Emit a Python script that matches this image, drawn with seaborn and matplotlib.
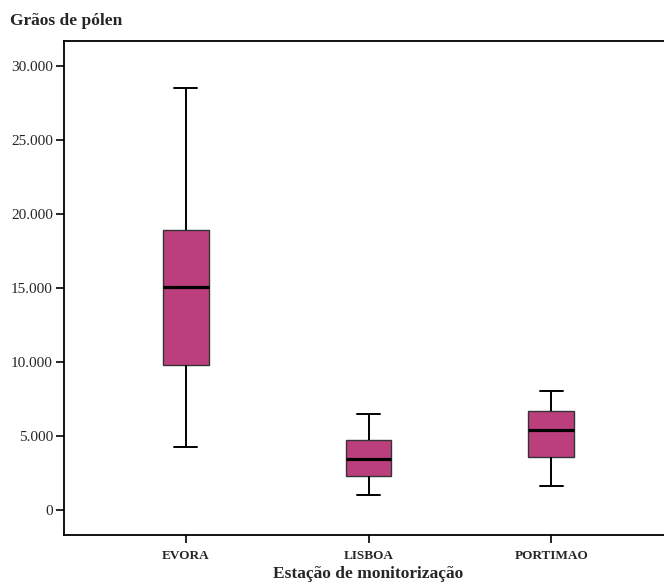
import pandas as pd
import seaborn as sns
import matplotlib.pyplot as plt

# Valores (mín, Q1, mediana, Q3, máx)
estacoes = ['EVORA', 'LISBOA', 'PORTIMAO']
evora = [4260, 9800, 15070, 18920, 28510]
lisboa = [1010, 2300, 3450, 4730, 6490]
portimao = [1620, 3580, 5400, 6690, 8040]

df = pd.DataFrame({
    'estacao': ['EVORA'] * 5 + ['LISBOA'] * 5 + ['PORTIMAO'] * 5,
    'graos': evora + lisboa + portimao,
})

sns.set_theme(style='white')
plt.rcParams['font.family'] = ['Liberation Serif', 'DejaVu Serif']

fig = plt.figure(figsize=(6.64, 5.85), dpi=100)
ax = fig.add_axes([64 / 664, 50 / 585, 609 / 664, 494.5 / 585])

sns.boxplot(data=df, x='estacao', y='graos', order=estacoes, ax=ax,
            whis=(0, 100), width=0.25, color='#BC3F7D', saturation=1,
            linecolor='#333333', linewidth=1.0,
            medianprops={'color': 'black', 'linewidth': 2.3},
            whiskerprops={'color': 'black', 'linewidth': 1.4},
            capprops={'color': 'black', 'linewidth': 1.4})

ax.set_xlim(-0.667, 2.667)
ax.set_ylim(-1690, 31720)
ax.set_yticks([0, 5000, 10000, 15000, 20000, 25000, 30000])
ax.set_yticklabels(['0', '5.000', '10.000', '15.000', '20.000', '25.000', '30.000'],
                   fontsize=11)
ax.set_xticks([0, 1, 2])
ax.set_xticklabels(estacoes, fontsize=9.5, fontweight='bold')
ax.tick_params(axis='both', direction='out', length=6, width=1.2, color='black',
               left=True, bottom=True, pad=2)
ax.tick_params(axis='x', pad=5)

for s in ax.spines.values():
    s.set_color('black')
    s.set_linewidth(1.3)
ax.spines['right'].set_visible(False)

ax.set_ylabel('')
ax.set_xlabel('Estação de monitorização', fontsize=12.5, fontweight='bold', labelpad=3)
fig.text(10 / 664, 1 - 21 / 585, 'Grãos de pólen', fontsize=12.5, fontweight='bold',
         va='center', ha='left')

fig.savefig('out.png', dpi=100)
